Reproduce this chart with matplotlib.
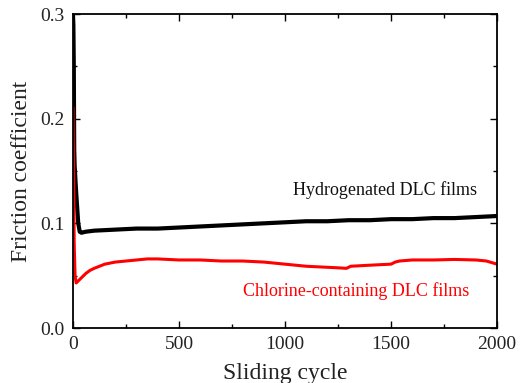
import matplotlib
matplotlib.use("Agg")
import matplotlib.pyplot as plt
from matplotlib.ticker import MultipleLocator

plt.rcParams['font.family'] = ['Liberation Serif', 'DejaVu Serif']

h_cycles = [0, 2, 4, 6, 8, 15, 25, 32, 40, 60, 100, 200, 300, 400, 500, 600, 700, 800,
            900, 1000, 1100, 1200, 1300, 1400, 1500, 1600, 1700, 1800, 1900, 2000]
h_mu = [0.30, 0.29, 0.25, 0.17, 0.155, 0.13, 0.10, 0.092, 0.091, 0.092, 0.093, 0.094, 0.095,
        0.095, 0.096, 0.097, 0.098, 0.099, 0.100, 0.101, 0.102, 0.102, 0.103, 0.103, 0.104,
        0.104, 0.105, 0.105, 0.106, 0.107]

c_cycles = [0, 3, 6, 10, 15, 20, 40, 60, 80, 100, 125, 150, 200, 250, 300, 350, 400, 500,
            600, 700, 800, 900, 1000, 1100, 1200, 1250, 1290, 1310, 1400, 1500, 1520, 1540,
            1600, 1700, 1800, 1900, 1950, 2000]
c_mu = [0.21, 0.15, 0.08, 0.05, 0.043, 0.044, 0.048, 0.052, 0.055, 0.057, 0.059, 0.061,
        0.063, 0.064, 0.065, 0.066, 0.066, 0.065, 0.065, 0.064, 0.064, 0.063, 0.061, 0.059,
        0.058, 0.0575, 0.057, 0.059, 0.060, 0.061, 0.063, 0.064, 0.065, 0.065, 0.0655,
        0.065, 0.064, 0.061]

fig = plt.figure(figsize=(5.21, 3.83), dpi=100)
ax = fig.add_axes([0.140, 0.1436, 0.814, 0.8198])
ax.plot(h_cycles, h_mu, color='black', lw=3.0)
ax.plot(c_cycles, c_mu, color='red', lw=2.2)

ax.set_xlim(0, 2000)
ax.set_ylim(0, 0.3)
ax.xaxis.set_major_locator(MultipleLocator(500))
ax.xaxis.set_minor_locator(MultipleLocator(250))
ax.yaxis.set_major_locator(MultipleLocator(0.1))
ax.yaxis.set_minor_locator(MultipleLocator(0.05))
ax.tick_params(which='both', direction='in', top=True, right=True, labelsize=14, width=1.0,
               labelcolor='#222222')
ax.tick_params(which='major', length=5, pad=6)
ax.tick_params(which='minor', length=3)
for s in ax.spines.values():
    s.set_linewidth(1.3)

ax.set_xlabel('Sliding cycle', fontsize=17, labelpad=7, color='#222222')
ax.set_ylabel('Friction coefficient', fontsize=17, labelpad=6, color='#222222')

ax.text(1472, 0.132, 'Hydrogenated DLC films', fontsize=13, ha='center', va='center', color='#111111')
ax.text(1335, 0.035, 'Chlorine-containing DLC films', fontsize=13, ha='center', va='center', color='red')

fig.savefig('out.png', dpi=100)
